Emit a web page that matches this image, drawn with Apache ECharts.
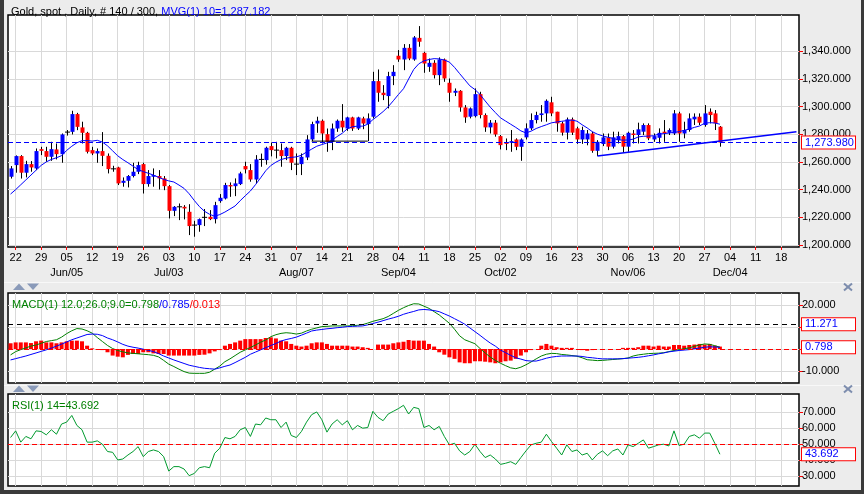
<!DOCTYPE html>
<html><head><meta charset="utf-8">
<script src="https://cdn.jsdelivr.net/npm/echarts/dist/echarts.min.js"></script>
<style>html,body{margin:0;padding:0;background:#ECECEC;}#c{width:864px;height:494px;}</style>
</head><body><div id="c"></div>
<script>
const categories = ("05-19 05-22 05-23 05-24 05-25 05-26 05-29 05-30 05-31 " +
"06-01 06-02 06-05 06-06 06-07 06-08 06-09 06-12 06-13 06-14 06-15 06-16 06-19 06-20 06-21 06-22 06-23 06-26 06-27 06-28 06-29 06-30 " +
"07-03 07-04 07-05 07-06 07-07 07-10 07-11 07-12 07-13 07-14 07-17 07-18 07-19 07-20 07-21 07-24 07-25 07-26 07-27 07-28 07-31 " +
"08-01 08-02 08-03 08-04 08-07 08-08 08-09 08-10 08-11 08-14 08-15 08-16 08-17 08-18 08-21 08-22 08-23 08-24 08-25 08-28 08-29 08-30 08-31 " +
"09-01 09-04 09-05 09-06 09-07 09-08 09-11 09-12 09-13 09-14 09-15 09-18 09-19 09-20 09-21 09-22 09-25 09-26 09-27 09-28 09-29 " +
"10-02 10-03 10-04 10-05 10-06 10-09 10-10 10-11 10-12 10-13 10-16 10-17 10-18 10-19 10-20 10-23 10-24 10-25 10-26 10-27 10-30 10-31 " +
"11-01 11-02 11-03 11-06 11-07 11-08 11-09 11-10 11-13 11-14 11-15 11-16 11-17 11-20 11-21 11-22 11-23 11-24 11-27 11-28 11-29 11-30 " +
"12-01 12-04 12-05 12-06 12-07 12-08 12-11 12-12 12-13 12-14 12-15 12-18 12-19 12-20 12-21").split(' ');

const monthDates  = ['06-05','07-03','08-07','09-04','10-02','11-06','12-04'];
const monthLabels = ['Jun/05','Jul/03','Aug/07','Sep/04','Oct/02','Nov/06','Dec/04'];

const opens = [1249.3,1257.7,1264.2,1252.2,1258.4,1255.3,1269.2,1267.8,1263.7,1269,
1265.6,1281.5,1281.7,1294.5,1284.9,1281,1268.5,1266.1,1267.8,1264.4,
1255,1256,1244.9,1246.4,1249.8,1252.9,1258.4,1244,1249.3,1249.8,
1248.1,1242.5,1224.7,1227.6,1227.6,1224,1214.4,1214.4,1220,1220.4,
1218.7,1231.7,1233.6,1243.3,1242.5,1244,1257,1254.1,1247.3,1261.8,
1261.3,1271.4,1268.5,1268.5,1264.2,1270.2,1258.4,1258.4,1263.2,1276.2,
1287.7,1289.7,1280,1274.5,1284.1,1289.7,1284.1,1292.1,1284.1,1291.4,
1287.3,1292.6,1318.3,1309.9,1307.5,1321.9,1336.6,1333.9,1342.3,1333.9,
1349.5,1338.7,1328.6,1331.5,1322.6,1333.9,1317.1,1309.9,1311.3,1299.3,
1292.6,1293,1308.9,1293.8,1284.9,1288.3,1278.6,1274.3,1273.8,1276.2,
1270.9,1277.7,1284.2,1290.2,1293.8,1295,1303,1296.2,1287.8,1281.1,
1290.7,1284.2,1276.2,1276.2,1280.5,1268,1272.9,1277.7,1271,1275.7,
1278.6,1271,1280.5,1279.4,1281.8,1286.6,1276.2,1277.4,1281.8,1281,
1280.5,1295,1280.5,1283,1290.7,1292.6,1286.6,1296.2,1295,1285.4];
const highs = [1257,1264.7,1264.9,1260.8,1260.6,1269.7,1270.9,1270.9,1274.5,1273.3,
1280.5,1283,1296.9,1295.4,1289,1281.7,1270.9,1269.7,1281.5,1266.1,
1257.2,1256.5,1248.8,1250.5,1259.4,1260.1,1259.4,1254.1,1255.3,1254.1,
1249.8,1243.3,1228.1,1230,1228.8,1229.5,1217.5,1219.2,1226,1225.2,
1231.2,1236.8,1244.9,1245.2,1248.1,1252.9,1260.1,1258.4,1264.9,1266,
1271,1274,1274.5,1273.3,1270.9,1270.9,1266.1,1266.1,1279.3,1289,
1292.6,1290.6,1284.1,1287.7,1290.6,1301.7,1292.6,1292.6,1292.6,1292.6,
1295,1325,1326.7,1315.4,1325,1329.8,1340.7,1345,1345,1350.8,
1358,1339.5,1334.6,1333.4,1335.4,1334.6,1320.2,1313,1311.8,1301,
1299.3,1313,1310.6,1295,1290.2,1290.2,1279.4,1276.9,1283,1277,
1277,1287.8,1295,1296.2,1301,1305.1,1307,1296.2,1289,1292,
1292,1285.4,1285.4,1283,1281.8,1275.7,1280.5,1280.5,1281.8,1281.8,
1279.4,1281.8,1283,1288.3,1287.8,1287.8,1280.5,1284.2,1290.2,1284.2,
1297.4,1296.2,1289,1295,1295,1295,1301,1298.6,1297.4,1285.9];
const lows = [1248,1252.2,1248,1248.8,1252.9,1254.1,1264.9,1260.1,1260.8,1261.8,
1259.4,1279,1279.8,1282.9,1273.3,1266.1,1264.9,1259.4,1257,1251.7,
1252.9,1243.3,1242.1,1241.6,1248.8,1251.2,1237.2,1242.1,1242.1,1240.1,
1239.6,1219.2,1220.9,1218,1218.5,1207.2,1206,1209.6,1213.7,1218,
1215.6,1230.5,1232.9,1234.8,1235.3,1243.3,1251.7,1245.7,1244.5,1256.5,
1258,1264,1262.5,1256.5,1261.3,1254.1,1250.5,1250.5,1261.3,1275,
1281,1273.3,1267.3,1268.5,1281.7,1281.7,1282.4,1282.4,1283,1283.6,
1275,1291.4,1303.4,1304.6,1298.6,1315.4,1332.2,1326.2,1333.4,1333,
1343.1,1324.3,1325,1320.2,1315.4,1317.8,1303.4,1307.5,1296.2,1288.2,
1291.4,1292.1,1291.4,1281.7,1280.5,1278.2,1269,1268.5,1267.3,1268.5,
1260.8,1276.2,1283,1287.8,1289,1289,1293,1281.8,1279,1276.2,
1279.4,1273,1273,1272,1266.6,1264.2,1271.4,1268.5,1269.7,1273.3,
1266.6,1267.3,1273.3,1273.3,1279.4,1275.7,1274.5,1273.3,1274.5,1279.4,
1279.4,1274.5,1277,1281.8,1286.6,1286.6,1285.4,1287.8,1283,1271];
const closes = [1255.3,1264.2,1252.2,1258.4,1256,1267.8,1268,1263.7,1269.2,1265.6,
1279.8,1281.5,1294.5,1285.3,1281,1267.3,1266.1,1267.8,1264.4,1254.8,
1254.3,1244.5,1246.4,1249.8,1252.9,1257.7,1244,1249.8,1250.5,1248.1,
1242.5,1224.7,1227.6,1227.6,1226.4,1213.7,1214.4,1218.7,1220.4,1218.7,
1228.8,1234.1,1243.3,1242.3,1244.5,1251.7,1254.6,1247.3,1261.8,1261.8,
1270.2,1268.5,1268.5,1264.2,1270.2,1259.4,1258.4,1263.7,1276.2,1287.3,
1289.7,1280.5,1274.5,1284.1,1289.7,1284.9,1292.1,1284.1,1292.1,1287.7,
1291.4,1318.3,1309.9,1308.2,1321.9,1325,1333.9,1342.3,1334.6,1349.8,
1346.7,1331,1331.5,1322.6,1333.9,1320.2,1309.9,1311.3,1299.3,1292.1,
1298.6,1308.9,1293.8,1284.9,1288.3,1279.8,1272.1,1273,1275,1270.9,
1276.2,1284.2,1290.2,1293.8,1295,1304.1,1295,1287.8,1281.1,1290.7,
1281.1,1276.2,1283,1280.5,1268,1274.5,1277.7,1271,1277.7,1278.6,
1271,1281,1279.4,1283.5,1286.6,1277,1278.6,1281,1280.5,1283,
1295,1280.5,1283,1291.4,1292.6,1288.3,1295,1293.8,1287.8,1273.98];
const ma10 = [1236.8,1240,1243.5,1247,1250.5,1254,1257.5,1260,1261.8,1263,
1264.5,1268.3,1271.3,1273.8,1275.3,1275.4,1275,1275.6,1274.3,1271.6,
1268,1264.4,1261.7,1259.4,1256.9,1254.5,1253,1251.8,1250.5,1248.9,
1247.4,1246.3,1245.5,1243.3,1240.9,1237,1232.2,1227.8,1224.4,1222.2,
1220.8,1222,1223.8,1226,1228.2,1232,1235.6,1239,1243.6,1248.5,
1253.6,1257.4,1259.8,1261.7,1262.7,1263.3,1263.6,1264.8,1267.1,1269.2,
1271.3,1272.5,1273.7,1275.7,1278.3,1280.7,1283.9,1285.4,1285.8,1285.8,
1287.2,1290.5,1293.3,1296.3,1299.8,1304.1,1308.6,1312.8,1319.8,1326.7,
1330.8,1332.9,1333.9,1334.5,1334.3,1333.5,1332,1328.2,1323.7,1319.3,
1314.9,1312.2,1308.6,1304,1299.5,1295.6,1291.8,1289.5,1287.2,1284.9,
1282.4,1280.9,1282.2,1284.1,1285.5,1286.8,1288.2,1288.8,1289.3,1289.8,
1290.2,1289.4,1286.8,1284.5,1281.8,1280,1278.8,1277.8,1277,1276,
1275.7,1275.8,1276.4,1278,1278.5,1278.6,1278.9,1280,1280.4,1280.8,
1281.3,1281.8,1282.8,1283.7,1284.9,1285.9,1287.9,1288.3,1288.1,1287.182];
const trendLine   = [[115, 1264.2], [154, 1281.8]];
const supportLine = [[59, 1275.0], [70, 1275.0]];

const macdLine = [-2.7,-1.2,-0.3,0.5,1.3,1.8,2.6,3.4,3.8,4.2,
5.4,7.0,8.3,9.3,9.1,8.3,7.2,5.2,3.4,1.6,
0.2,-0.7,-1.3,-1.8,-2.0,-2.2,-2.4,-2.6,-2.9,-3.6,
-5.2,-6.9,-8.0,-9.2,-10.3,-11.0,-11.1,-11.1,-11.1,-10.6,
-9.2,-7.8,-5.8,-4.5,-3.0,-1.5,-0.4,0.7,1.8,3.1,
4.1,5.6,6.5,7.1,7.4,7.2,6.8,7.2,8.2,9.0,
9.6,10.2,10.3,10.5,10.5,10.5,10.5,10.6,10.8,11.1,
11.8,12.6,13.2,13.8,14.8,16.2,17.6,18.8,19.8,20.6,
20.5,19.5,18.5,17.0,15.5,13.6,11.7,9.0,6.0,4.2,
3.3,2.4,0.2,-1.8,-3.7,-5.2,-6.5,-7.6,-8.6,-9.0,
-8.3,-7.2,-5.9,-4.5,-3.2,-2.4,-2.0,-2.1,-2.5,-2.7,
-3.0,-3.3,-4.0,-4.9,-5.1,-5.3,-5.2,-5.0,-4.8,-4.6,
-4.4,-4.1,-3.2,-2.7,-2.4,-2.1,-2.0,-1.9,-1.7,-1.2,
-0.7,-0.3,0.1,0.5,1.2,1.8,2.3,2.1,1.5,0.798];
const signalLine = [-5.0,-4.4,-3.8,-3.2,-2.5,-1.8,-1.1,-0.4,0.4,1.3,
2.2,3.2,4.2,5.0,5.8,6.6,6.8,6.7,6.1,5.0,
4.2,3.2,2.1,1.3,0.8,0.4,-0.1,-0.6,-1.2,-2.1,
-3.2,-4.1,-5.0,-5.8,-6.6,-7.4,-7.9,-8.4,-8.8,-9.0,
-9.2,-8.6,-7.9,-7.3,-6.2,-5.0,-3.8,-2.4,-1.4,-0.4,
0.6,1.6,2.5,3.6,4.3,4.8,5.4,6.3,7.2,8.2,
8.6,8.9,9.2,9.4,9.7,9.9,10.2,10.3,10.4,10.5,
11.0,11.6,12.2,12.9,13.6,14.2,14.9,15.8,16.5,17.1,
17.8,18.0,17.8,17.5,17.0,16.0,15.0,13.8,12.6,11.3,
9.6,7.9,6.2,4.4,2.7,1.3,-0.5,-1.7,-2.9,-4.0,
-4.6,-5.3,-5.5,-5.5,-4.9,-4.2,-3.7,-3.4,-3.2,-3.2,
-3.2,-3.2,-3.4,-3.8,-4.0,-4.3,-4.5,-4.5,-4.5,-4.5,
-4.4,-4.2,-4.0,-3.8,-3.5,-3.1,-2.7,-2.2,-1.8,-1.3,
-1.0,-0.7,-0.5,-0.3,0.1,0.4,0.8,1.0,0.9,0.785];
const macdHist = [2.6,3.0,3.0,3.0,2.7,3.5,3.8,3.0,3.0,2.6,
3.0,3.5,3.8,3.8,3.5,1.5,0.3,-0.3,-0.5,-1.5,
-3.0,-3.5,-3.8,-2.7,-2.3,-2.3,-1.5,-1.5,-2.0,-2.3,
-2.3,-3.0,-3.0,-3.0,-3.0,-3.0,-3.0,-2.7,-2.6,-2.0,
-1.1,-0.5,1.5,2.3,3.0,3.8,4.5,4.5,4.5,4.5,
5.0,5.3,4.8,3.8,3.5,2.3,1.5,1.1,1.5,2.6,
3.0,3.0,2.3,1.5,1.5,1.5,1.5,1.1,1.1,0.8,
0.5,0,2.0,2.0,2.0,2.6,3.0,3.3,4.1,3.8,
3.8,3.8,2.3,1.1,-1.5,-2.6,-3.8,-4.5,-6.1,-6.5,
-6.5,-5.6,-5.6,-5.8,-6.1,-6.5,-6.1,-5.6,-5.3,-4.5,
-3.0,-1.5,-0.5,0,1.5,2.3,1.5,0.8,0.5,0.5,
0.5,0,-0.5,-0.8,-0.5,0,-0.3,0,0,0,
0.5,0.5,0.5,0.8,1.5,1.5,1.1,1.5,1.1,1.1,
1.8,1.8,1.5,1.8,2.0,2.3,2.0,2.3,1.5,1.1];
const macdRefLevel = 11.271;

const rsi14 = [54.2,58.4,51.3,54.9,53.4,58.4,58,55.9,59.1,56.3,
62.7,63.9,68.1,61.8,59.1,51.3,51.3,52.1,50,45.4,
44.9,40.1,40.7,43.2,45.4,48.5,42.2,45.4,46.4,45.4,
42.2,33.1,35.9,35.9,34.4,30.2,31.6,35.2,35.9,35.2,
44.3,47.5,54.2,53.4,54.9,59.1,60.5,54.9,62.7,62.2,
66.5,65.4,65.4,60.5,63.9,55.5,54.2,58,63.9,68.6,
70.3,65.4,57.6,62.7,65.4,62.2,64.8,59.1,61.8,60.1,
60.5,70.7,66.9,64.8,69,70.7,72.4,74.5,69,73.2,
72.4,60.5,61.8,59.1,61.2,54.9,49.6,50.6,45.8,43.2,
45.4,50,45.4,41.6,43.2,40.7,37.3,38,39,37.3,
41.6,45.8,49.6,50.6,51.3,56.3,51.7,47.5,43.2,49.6,
45.4,46.4,43.2,44.3,40.1,43.7,45.8,42.8,45.8,47,
43.2,49.6,48.5,50.6,52.7,47.5,48.5,49.6,50,48.9,
58.4,49.2,50,54.9,55.9,53.8,57,57,50.6,43.692];
const rsiMid = 50;

const priceTicks = [1200,1220,1240,1260,1280,1300,1320,1340];
const macdTicks  = [-10,0,10,20];
const rsiTicks   = [30,40,50,60,70];

const FONT = "'Liberation Sans', Arial, Helvetica, sans-serif";
const GRID_C = '#D9D9D9';
const last = closes.length - 1;
const f3 = v => Number(v).toLocaleString('en-US', {minimumFractionDigits: 3, maximumFractionDigits: 3});
const isMonday = (i) => i % 5 === 1;
const isMonthStart = (i) => monthDates.indexOf(categories[i]) >= 0;

const candleData = closes.map((c, i) => [i, opens[i], c, lows[i], highs[i]]);

function renderCandle(params, api) {
  const x = api.value(0), o = api.value(1), c = api.value(2), l = api.value(3), h = api.value(4);
  const pO = api.coord([x, o]), pC = api.coord([x, c]), pL = api.coord([x, l]), pH = api.coord([x, h]);
  const w = Math.max(2, Math.round(api.size([1, 0])[0] * 0.74));
  const cx = Math.round(pO[0]) + 0.5;
  const kids = [{type: 'line', shape: {x1: cx, y1: pH[1], x2: cx, y2: pL[1]}, style: {stroke: '#000', lineWidth: 1}}];
  const top = Math.min(pO[1], pC[1]), hh = Math.abs(pO[1] - pC[1]);
  if (hh < 1.2) {
    kids.push({type: 'line', shape: {x1: cx - w / 2 - 0.5, y1: pO[1], x2: cx + w / 2 + 0.5, y2: pO[1]}, style: {stroke: '#000', lineWidth: 1}});
  } else {
    kids.push({type: 'rect', shape: {x: cx - w / 2, y: top, width: w, height: hh}, style: {fill: c >= o ? '#0000FF' : '#FF0000'}});
  }
  return {type: 'group', children: kids};
}

function boxLabel(text) {
  return {show: true, position: 'end', distance: 3, formatter: text, color: '#0000FF', fontSize: 11, fontFamily: FONT,
    fontWeight: 'normal', backgroundColor: '#FFFFFF', borderColor: '#FF0000', borderWidth: 1, padding: [1, 3, 0, 3], width: 47, align: 'left'};
}
function hLine(value, color, type, label) {
  return {yAxis: value, lineStyle: {color: color, type: type, width: 1}, label: label ? label : {show: false}};
}

function xAxisFor(gi) {
  return {
    type: 'category', gridIndex: gi, data: categories, boundaryGap: true,
    axisLine: {show: false},
    axisTick: {show: gi === 0, interval: isMonday, alignWithLabel: true, length: 3, lineStyle: {color: '#FF0000'}},
    axisLabel: {show: gi === 0, interval: isMonday, formatter: v => v.slice(3), color: '#000', fontSize: 11, fontFamily: FONT, margin: 5},
    splitLine: {show: true, interval: isMonday, alignWithLabel: true, lineStyle: {color: GRID_C, width: 1}}
  };
}
function yAxisFor(gi, min, max, ticks) {
  return {
    type: 'value', gridIndex: gi, position: 'right', min: min, max: max,
    axisLine: {show: false},
    axisTick: {show: true, length: 4, customValues: ticks, lineStyle: {color: '#FF0000'}},
    axisLabel: {customValues: ticks, formatter: v => f3(v), color: '#000', fontSize: 11, fontFamily: FONT, margin: 3},
    splitLine: {show: true, lineStyle: {color: GRID_C, width: 1}}
  };
}
const gridBase = {left: 8, right: 65, show: true, backgroundColor: '#FFFFFF', borderColor: '#000000', borderWidth: 1.5};

const tri = (pts) => ({type: 'polygon', shape: {points: pts}, style: {fill: '#8A9AB9'}, silent: true});
const cross = (cx, cy) => ([
  {type: 'line', shape: {x1: cx - 4, y1: cy - 3.5, x2: cx + 4, y2: cy + 3.5}, style: {stroke: '#7D8DAE', lineWidth: 2}},
  {type: 'line', shape: {x1: cx + 4, y1: cy - 3.5, x2: cx - 4, y2: cy + 3.5}, style: {stroke: '#7D8DAE', lineWidth: 2}}
]);
const txt = (color) => ({color: color, fontSize: 11, fontFamily: FONT, fontWeight: 'normal'});

const option = {
  animation: false,
  backgroundColor: '#ECECEC',
  title: [
    {left: 6, top: 1, text: '{a|Gold, spot , Daily, # 140 / 300, }{b|MVG(1) 10=' + f3(ma10[last]) + '}',
     textStyle: Object.assign(txt('#000'), {rich: {a: txt('#000'), b: txt('#0000FF')}})},
    {left: 7, top: 294, text: '{g|MACD(1) 12.0;26.0;9.0=' + f3(macdLine[last]) + '}{b|/' + f3(signalLine[last]) + '}{r|/' + f3(macdLine[last] - signalLine[last]) + '}',
     textStyle: Object.assign(txt('#008000'), {rich: {g: txt('#008000'), b: txt('#0000FF'), r: txt('#FF0000')}})},
    {left: 7, top: 395, text: 'RSI(1) 14=' + f3(rsi14[last]), textStyle: txt('#008000')}
  ],
  grid: [
    Object.assign({top: 15, height: 232}, gridBase),
    Object.assign({top: 293, height: 90}, gridBase),
    Object.assign({top: 394, height: 92}, gridBase)
  ],
  xAxis: [
    xAxisFor(0), xAxisFor(1), xAxisFor(2),
    {type: 'category', gridIndex: 0, data: categories, boundaryGap: true, position: 'bottom', offset: 15,
     axisLine: {show: false}, axisTick: {show: false}, splitLine: {show: false},
     axisLabel: {interval: isMonthStart, formatter: v => monthLabels[monthDates.indexOf(v)] || '', color: '#000', fontSize: 11, fontFamily: FONT, margin: 5}}
  ],
  yAxis: [
    yAxisFor(0, 1198.6, 1366, priceTicks),
    yAxisFor(1, -15.5, 25.5, macdTicks),
    yAxisFor(2, 23.7, 81.6, rsiTicks)
  ],
  series: [
    {type: 'custom', name: 'Gold', xAxisIndex: 0, yAxisIndex: 0, data: candleData, renderItem: renderCandle,
     encode: {x: 0, y: [1, 2, 3, 4]}, z: 2},
    {type: 'line', name: 'MVG10', xAxisIndex: 0, yAxisIndex: 0, data: ma10, showSymbol: false, symbol: 'none',
     lineStyle: {color: '#0000FF', width: 1}, z: 4,
     markLine: {silent: true, symbol: ['none', 'none'], precision: 3,
       data: [hLine(closes[last], '#0000FF', [5, 3], boxLabel(f3(closes[last])))]}},
    {type: 'line', name: 'trend', xAxisIndex: 0, yAxisIndex: 0, data: trendLine, showSymbol: false, symbol: 'none',
     lineStyle: {color: '#0000FF', width: 1.5}, z: 4},
    {type: 'line', name: 'support', xAxisIndex: 0, yAxisIndex: 0, data: supportLine, showSymbol: false, symbol: 'none',
     lineStyle: {color: '#000000', width: 1}, z: 4},

    {type: 'bar', name: 'hist', xAxisIndex: 1, yAxisIndex: 1, data: macdHist, barWidth: 4,
     itemStyle: {color: '#FF0000'}, z: 2,
     markLine: {silent: true, symbol: ['none', 'none'], precision: 3,
       data: [hLine(0, '#FF0000', [5, 3]),
              hLine(macdRefLevel, '#000000', [5, 4], boxLabel(f3(macdRefLevel))),
              hLine(macdLine[last], 'rgba(0,0,0,0)', 'solid', boxLabel(f3(macdLine[last])))]}},
    {type: 'line', name: 'macd', xAxisIndex: 1, yAxisIndex: 1, data: macdLine, showSymbol: false, symbol: 'none',
     lineStyle: {color: '#008000', width: 1}, z: 3},
    {type: 'line', name: 'signal', xAxisIndex: 1, yAxisIndex: 1, data: signalLine, showSymbol: false, symbol: 'none',
     lineStyle: {color: '#0000FF', width: 1}, z: 3},

    {type: 'line', name: 'rsi', xAxisIndex: 2, yAxisIndex: 2, data: rsi14, showSymbol: false, symbol: 'none',
     lineStyle: {color: '#009A2E', width: 1}, z: 3,
     markLine: {silent: true, symbol: ['none', 'none'], precision: 3,
       data: [hLine(rsiMid, '#FF0000', [5, 3]),
              hLine(rsi14[last], 'rgba(0,0,0,0)', 'solid', boxLabel(f3(rsi14[last])))]}}
  ],
  graphic: [
    {type: 'line', shape: {x1: 4, y1: 282.5, x2: 861, y2: 282.5}, style: {stroke: '#F8F8F8', lineWidth: 1}, silent: true},
    {type: 'line', shape: {x1: 4, y1: 385.5, x2: 861, y2: 385.5}, style: {stroke: '#F8F8F8', lineWidth: 1}, silent: true},
    tri([[13, 290], [19, 283.5], [25, 290]]), tri([[27, 283.5], [39, 283.5], [33, 290]]),
    tri([[13, 392], [19, 385.5], [25, 392]]), tri([[27, 385.5], [39, 385.5], [33, 392]]),
    ...cross(848, 287), ...cross(848, 389),
    {type: 'rect', shape: {x: 0, y: 0, width: 4, height: 494}, style: {fill: '#3A3A3A'}, silent: true},
    {type: 'rect', shape: {x: 861, y: 0, width: 3, height: 494}, style: {fill: '#3A3A3A'}, silent: true},
    {type: 'rect', shape: {x: 0, y: 490, width: 864, height: 4}, style: {fill: '#3A3A3A'}, silent: true}
  ]
};
const chart = echarts.init(document.getElementById('c'));
chart.setOption(option);
</script></body></html>
